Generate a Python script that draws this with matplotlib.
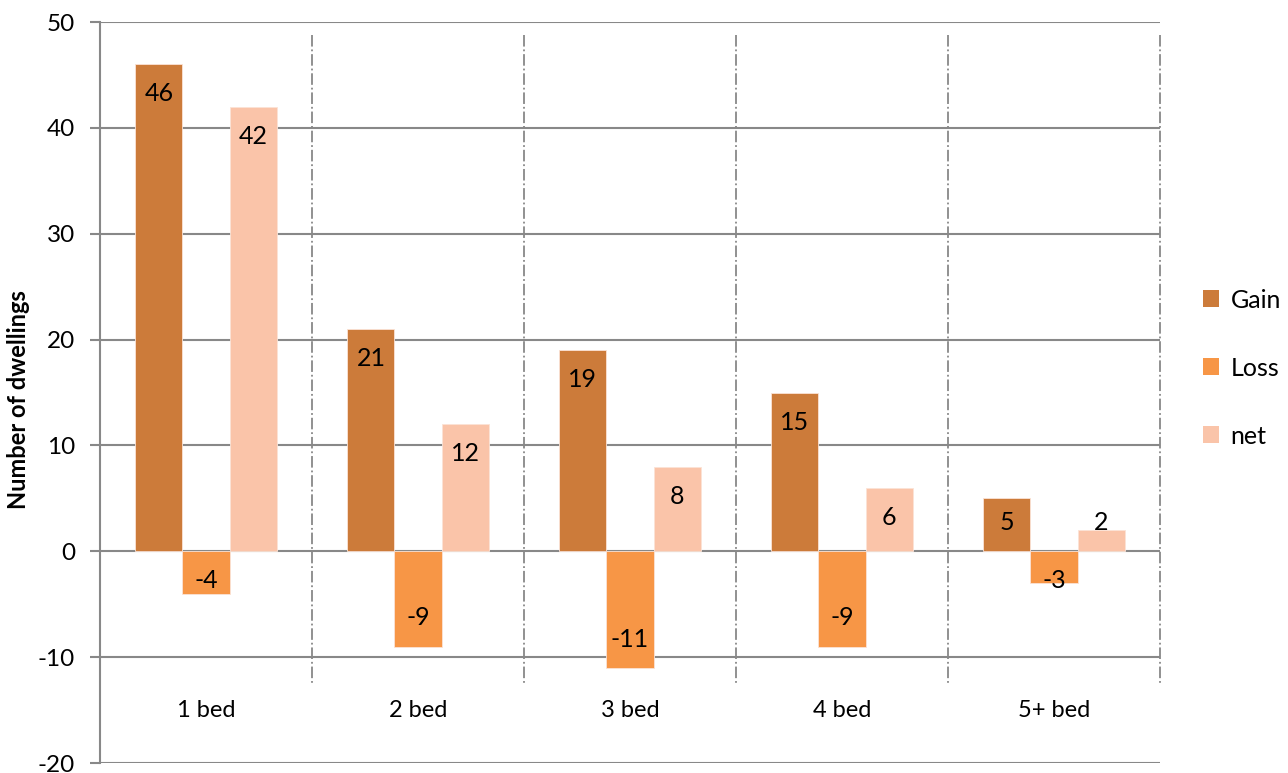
import numpy as np
import matplotlib.pyplot as plt
from matplotlib.patches import Patch

categories = ['1 bed', '2 bed', '3 bed', '4 bed', '5+ bed']
gain = [46, 21, 19, 15, 5]
loss = [-4, -9, -11, -9, -3]
net = [42, 12, 8, 6, 2]

series_names = ['Gain', 'Loss', 'net']
colors = ['#CC7B3A', '#F79646', '#FAC4A9']

plt.rcParams['font.family'] = ['Lato', 'DejaVu Sans']
plt.rcParams['axes.unicode_minus'] = False

fig = plt.figure(figsize=(12.88, 7.73), dpi=100)
ax = fig.add_axes([100/1288, 1-763/773, 1060/1288, (763-22)/773])

x = np.arange(len(categories)) + 0.5
w = 0.222
grid_c = '#888888'

for i, (vals, c) in enumerate(zip([gain, loss, net], colors)):
    xs = x + (i - 1) * w
    ax.bar(xs, vals, width=w, color=c, edgecolor='#FBE3D6', linewidth=0.6, zorder=3)
    for xi, v in zip(xs, vals):
        # label sits inside the end of the bar, but never too close to zero
        if v >= 0:
            yl = max(v - 2.8, 2.75)
        else:
            yl = min(v + 2.7, -2.8)
        ax.text(xi, yl, str(v), ha='center', va='center', fontsize=18, zorder=4)

ax.set_ylim(-20, 50)
ax.set_xlim(0, len(categories))
ax.set_yticks(range(-20, 51, 10))
ax.set_xticks([])
ax.yaxis.grid(True, color=grid_c, linewidth=1.5, zorder=0)
ax.tick_params(axis='y', direction='out', length=7, width=1.5, color=grid_c,
               labelsize=17.5, pad=11)

for s in ['top', 'right', 'bottom']:
    ax.spines[s].set_visible(False)
ax.spines['left'].set_color(grid_c)
ax.spines['left'].set_linewidth(1.5)

# category separators
for b in range(1, len(categories) + 1):
    ax.plot([b, b], [48.8, -12.6], color=grid_c, linestyle='-.', linewidth=1.3,
            zorder=1, clip_on=False)

for xi, c in zip(x, categories):
    ax.text(xi, -15, c, ha='center', va='center', fontsize=17)

ax.set_ylabel('Number of dwellings', fontsize=17, fontweight='bold')
ax.yaxis.set_label_coords(-0.066, 0.49)

handles = [Patch(facecolor=c, label=n) for c, n in zip(colors, series_names)]
fig.legend(handles=handles, loc='center left', bbox_to_anchor=(1203/1288, 1-368/773),
           frameon=False, fontsize=18, handlelength=0.65, handleheight=0.65,
           handletextpad=0.45, labelspacing=1.8, borderpad=0, borderaxespad=0)

fig.savefig('out.png', dpi=100)
